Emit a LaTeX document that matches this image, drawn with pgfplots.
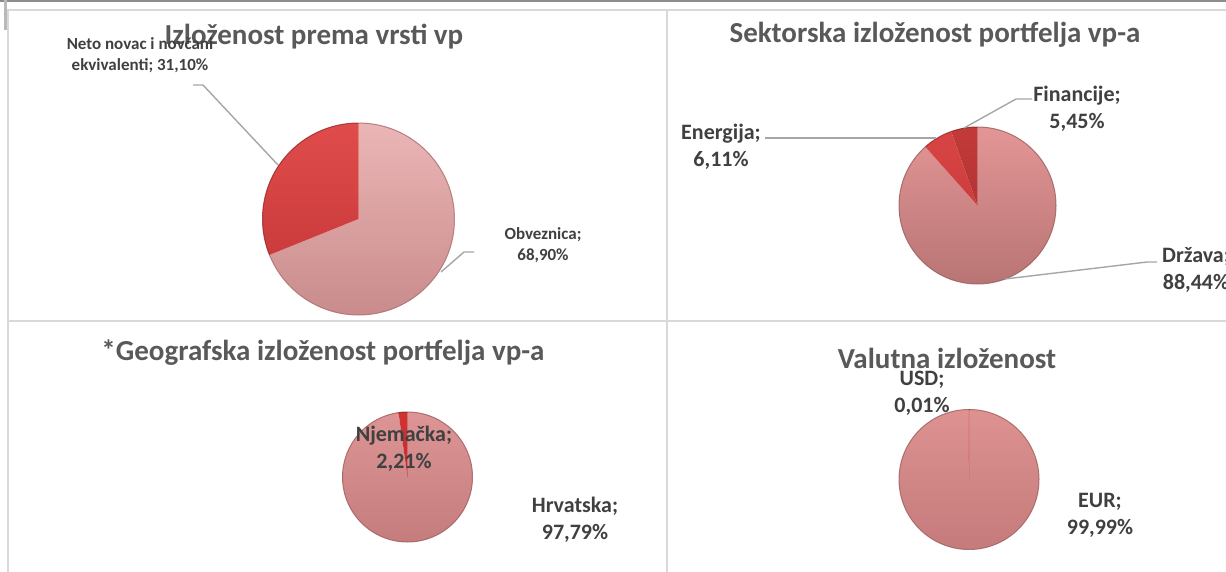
\documentclass[border=0pt]{standalone}
\usepackage{fontspec}
\setmainfont{Carlito}
\usepackage{pgfplots}
\usepackage{pgfplotstable}
\pgfplotsset{compat=1.18}

\definecolor{titlegray}{HTML}{595959}
\definecolor{labelgray}{HTML}{404040}
\definecolor{leader}{HTML}{A6A6A6}
\definecolor{border}{HTML}{D9D9D9}
\definecolor{topline}{HTML}{8C8C8C}

\definecolor{pOtop}{HTML}{ECB6B6}\definecolor{pObot}{HTML}{C98B8B}\definecolor{pOedge}{HTML}{A86C6C}
\definecolor{pNtop}{HTML}{E04C4C}\definecolor{pNbot}{HTML}{C23434}\definecolor{pNedge}{HTML}{962828}
\definecolor{pDtop}{HTML}{E49696}\definecolor{pDbot}{HTML}{B87474}\definecolor{pDedge}{HTML}{9A5E5E}
\definecolor{pEtop}{HTML}{D94545}\definecolor{pEbot}{HTML}{C03535}\definecolor{pEedge}{HTML}{962828}
\definecolor{pFtop}{HTML}{C33A3A}\definecolor{pFbot}{HTML}{A82D2D}\definecolor{pFedge}{HTML}{8A2222}
\definecolor{pHtop}{HTML}{DD9595}\definecolor{pHbot}{HTML}{C47C7C}\definecolor{pHedge}{HTML}{9E5E5E}
\definecolor{pGtop}{HTML}{D03434}\definecolor{pGbot}{HTML}{B02828}\definecolor{pGedge}{HTML}{8A2020}
\definecolor{pUtop}{HTML}{DE9292}\definecolor{pUbot}{HTML}{C57B7B}\definecolor{pUedge}{HTML}{9E5E5E}

% slice tables: start and end of each slice, in percent, clockwise from 12 o'clock
\pgfplotstableread[row sep=\\]{x y s e\\ 0 0 0 68.90\\}\tObv
\pgfplotstableread[row sep=\\]{x y s e\\ 0 0 68.90 100\\}\tNeto
\pgfplotstableread[row sep=\\]{x y s e\\ 0 0 0 88.44\\}\tDrz
\pgfplotstableread[row sep=\\]{x y s e\\ 0 0 88.44 94.55\\}\tEne
\pgfplotstableread[row sep=\\]{x y s e\\ 0 0 94.55 100\\}\tFin
\pgfplotstableread[row sep=\\]{x y s e\\ 0 0 0 97.79\\}\tHrv
\pgfplotstableread[row sep=\\]{x y s e\\ 0 0 97.79 100\\}\tNjem
\pgfplotstableread[row sep=\\]{x y s e\\ 0 0 0 99.99\\}\tEur
\pgfplotstableread[row sep=\\]{x y s e\\ 0 0 99.99 100\\}\tUsd

\pgfplotsset{
  pieaxis/.style={hide axis, scale only axis, width=20pt, height=20pt,
    xmin=-1, xmax=1, ymin=-1, ymax=1, clip=false, anchor=center,
    point meta min=0, point meta max=100},
  slice/.style n args={4}{
    draw=none, mark=none,
    point meta=\thisrow{e},
    visualization depends on={\thisrow{s} \as \pS},
    visualization depends on={\thisrow{e} \as \pE},
    nodes near coords={\phantom{0}},
    every node near coord/.append style={anchor=center, circle, inner sep=0pt,
      minimum size={2*#1+3pt}, draw=none, fill=none, text opacity=0,
      path picture={%
        \pgfmathsetmacro\aS{90-3.6*\pS}%
        \pgfmathsetmacro\aE{90-3.6*\pE}%
        \shade[top color=#2, bottom color=#3]
          (path picture bounding box.center) -- ++(\aS:#1)
          arc[start angle=\aS, end angle=\aE, radius=#1] -- cycle;
        \draw[#4, line width=1pt, opacity=0.8]
          (path picture bounding box.center) ++(\aS:#1)
          arc[start angle=\aS, end angle=\aE, radius=#1];
      }},
  },
}

\newcommand\tfont{\fontsize{29}{35}\selectfont\bfseries}
\newcommand\sfont{\fontsize{17}{21}\selectfont\bfseries}
\newcommand\lfont{\fontsize{22}{27}\selectfont\bfseries}

\begin{document}
\begin{tikzpicture}[x=1pt,y=-1pt]
\useasboundingbox (0,0) rectangle (1226,572);
\fill[white] (0,0) rectangle (1226,572);
% panel borders
\draw[border, line width=2pt] (8,572) -- (8,10) -- (1226,10);
\draw[border, line width=2pt] (667,10) -- (667,572);
\draw[border, line width=2pt] (8,321) -- (1226,321);
\draw[topline, line width=2.5pt] (0,1) -- (1226,1);
\fill[gray!55] (4,0) rectangle (7,30);

% ---------- Pie 1 ----------
\begin{axis}[pieaxis, at={(358.5pt,-219pt)}]
\addplot[slice={96pt}{pOtop}{pObot}{pOedge}] table[x=x,y=y] {\tObv};
\addplot[slice={96pt}{pNtop}{pNbot}{pNedge}] table[x=x,y=y] {\tNeto};
\end{axis}
% ---------- Pie 2 ----------
\begin{axis}[pieaxis, at={(977.5pt,-205.5pt)}]
\addplot[slice={78.5pt}{pDtop}{pDbot}{pDedge}] table[x=x,y=y] {\tDrz};
\addplot[slice={78.5pt}{pEtop}{pEbot}{pEedge}] table[x=x,y=y] {\tEne};
\addplot[slice={78.5pt}{pFtop}{pFbot}{pFedge}] table[x=x,y=y] {\tFin};
\end{axis}
% ---------- Pie 3 ----------
\begin{axis}[pieaxis, at={(407.5pt,-477pt)}]
\addplot[slice={65pt}{pHtop}{pHbot}{pHedge}] table[x=x,y=y] {\tHrv};
\addplot[slice={65pt}{pGtop}{pGbot}{pGedge}] table[x=x,y=y] {\tNjem};
\end{axis}
% ---------- Pie 4 ----------
\begin{axis}[pieaxis, at={(969pt,-479.5pt)}]
\addplot[slice={70pt}{pUtop}{pUbot}{pUedge}] table[x=x,y=y] {\tEur};
\addplot[slice={70pt}{pGtop}{pGbot}{pGedge}] table[x=x,y=y] {\tUsd};
\end{axis}

% leader lines
\draw[leader, line width=1.4pt] (193,85) -- (203,85) -- (278,165);
\draw[leader, line width=1.4pt] (441,272) -- (464,252) -- (474,252);
\draw[leader, line width=1.4pt] (765,138) -- (936,138);
\draw[leader, line width=1.4pt] (964,128) -- (1016,99) -- (1032,99);
\draw[leader, line width=1.4pt] (1005,279) -- (1147,262) -- (1157,262);

% titles
\node[anchor=base, text=titlegray, font=\tfont] at (314,45) {Izloženost prema vrsti vp};
\node[anchor=base, text=titlegray, font=\tfont] at (935,43) {Sektorska izloženost portfelja vp-a};
\node[anchor=base, text=titlegray, font=\tfont] at (323,360) {*Geografska izloženost portfelja vp-a};
\node[anchor=base, text=titlegray, font=\tfont] at (947,368) {Valutna izloženost};

% data labels
\node[align=center, text=labelgray, font=\sfont, inner sep=0pt] at (140,55.5) {Neto novac i novčani\\ekvivalenti; 31,10\%};
\node[align=center, text=labelgray, font=\sfont, inner sep=0pt] at (543,245.5) {Obveznica;\\68,90\%};
\node[align=center, text=labelgray, font=\lfont, inner sep=0pt] at (721,146.5) {Energija;\\6,11\%};
\node[align=center, text=labelgray, font=\lfont, inner sep=0pt] at (1077,108.5) {Financije;\\5,45\%};
\node[align=center, text=labelgray, font=\lfont, inner sep=0pt] at (1196,270) {Država;\\88,44\%};
\node[align=center, text=labelgray, font=\lfont, inner sep=0pt] at (404,448.5) {Njemačka;\\2,21\%};
\node[align=center, text=labelgray, font=\lfont, inner sep=0pt] at (575,520) {Hrvatska;\\97,79\%};
\node[align=center, text=labelgray, font=\lfont, inner sep=0pt] at (922,393.5) {USD;\\0,01\%};
\node[align=center, text=labelgray, font=\lfont, inner sep=0pt] at (1100,515.5) {EUR;\\99,99\%};
\end{tikzpicture}
\end{document}
